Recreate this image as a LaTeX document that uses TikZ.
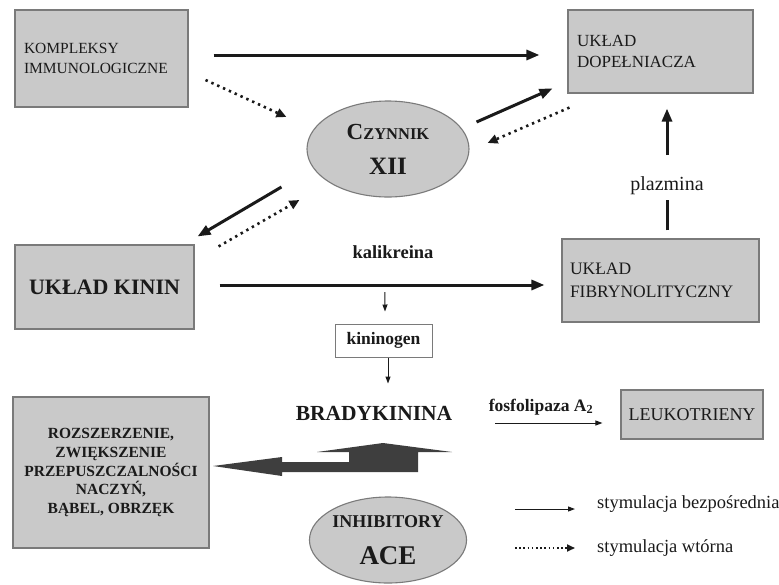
\documentclass[tikz,border=0pt]{standalone}
\usepackage{fontspec}
\setmainfont{Liberation Serif}
\usetikzlibrary{arrows.meta,shapes.geometric,calc}
\definecolor{boxfill}{HTML}{C9C9C9}
\definecolor{boxline}{HTML}{7A7A7A}
\definecolor{ink}{HTML}{1A1A1A}
\definecolor{bigarrow}{HTML}{3E3E3E}
\newcommand{\fsz}[1]{\fontsize{#1}{#1}\selectfont}
\begin{document}
\begin{tikzpicture}[x=1pt,y=-1pt,
  graybox/.style={draw=boxline, line width=1.1pt, fill=boxfill, text=ink, inner sep=0pt},
  whitebox/.style={draw=boxline, line width=1pt, fill=white, text=ink, inner sep=0pt},
  grayell/.style={ellipse, draw=boxline, line width=1.1pt, fill=boxfill, text=ink, inner sep=0pt},
  thickarr/.style={line width=3pt, draw=ink, -{Triangle[length=13pt,width=10pt]}},
  thickline/.style={line width=3pt, draw=ink},
  dotarr/.style={line width=2.6pt, draw=ink, dash pattern=on 2.4pt off 4pt, -{Triangle[length=10pt,width=9pt]}},
  thinarr/.style={line width=1pt, draw=ink, -{Triangle[length=7pt,width=5pt]}},
  thindot/.style={line width=1.8pt, draw=ink, dash pattern=on 1.6pt off 2.6pt, -{Triangle[length=8pt,width=7pt]}},
  lbl/.style={text=ink, inner sep=0pt}
]
\useasboundingbox (0,0) rectangle (779,584);

% boxes
\node[graybox, minimum width=173pt, minimum height=97pt, text width=155pt, align=left, inner xsep=9pt,
  font={\fontsize{15.5}{20}\selectfont}]
  (komp) at (101.5,58.5) {KOMPLEKSY\\IMMUNOLOGICZNE};
\node[graybox, minimum width=185pt, minimum height=83pt, text width=167pt, align=left, inner xsep=9pt,
  font={\fontsize{17}{21}\selectfont}]
  (dop) at (660.5,51.5) {UKŁAD\\DOPEŁNIACZA};
\node[graybox, minimum width=197pt, minimum height=83pt, text width=181pt, align=left, inner xsep=8pt,
  font={\fontsize{17.5}{23}\selectfont}]
  (fib) at (660.5,280.5) {UKŁAD\\FIBRYNOLITYCZNY};
\node[graybox, minimum width=179pt, minimum height=84pt, font={\bfseries\fsz{22}}]
  (kinin) at (104.5,287) {UKŁAD KININ};
\node[whitebox, minimum width=97pt, minimum height=33pt, font={\bfseries\fsz{17.5}}]
  (kng) at (383.5,340.5) {kininogen};
\node[graybox, minimum width=196pt, minimum height=151pt, align=center,
  font={\bfseries\fontsize{15.5}{18.7}\selectfont}]
  (rozsz) at (111,472.5) {ROZSZERZENIE,\\ZWIĘKSZENIE\\PRZEPUSZCZALNOŚCI\\NACZYŃ,\\BĄBEL, OBRZĘK};
\node[graybox, minimum width=142pt, minimum height=49pt, font={\fsz{18}}]
  (leuko) at (692,414.5) {LEUKOTRIENY};

% ellipses
\node[grayell, minimum width=162pt, minimum height=96pt, align=center,
  font={\bfseries\fontsize{25}{35}\selectfont}]
  (czyn) at (388,149) {{\fsz{23}C}{\fsz{16.5}ZYNNIK}\\XII};
\node[grayell, minimum width=142pt, minimum height=86pt, align=center,
  font={\bfseries\fontsize{27}{37}\selectfont}]
  (ace) at (388,540) {{\fsz{18}INHIBITORY}\\ACE};

% labels
\node[lbl, font={\bfseries\fsz{21.5}}] (brady) at (374,413) {BRADYKININA};
\node[lbl, font={\bfseries\fsz{18.5}}] (kalik) at (393,252) {kalikreina};
\node[lbl, font={\fsz{20}}] (plaz) at (667,186) {plazmina};
\node[lbl, font={\bfseries\fsz{17.5}}] (fosfo) at (541,407) {fosfolipaza A$_{\mathbf 2}$};
\node[lbl, anchor=west, font={\fsz{18.5}}] (leg1) at (597,504) {stymulacja bezpośrednia};
\node[lbl, anchor=west, font={\fsz{18.5}}] (leg2) at (597,548) {stymulacja wtórna};

% connectors
\draw[thickarr] ($(komp.east)+(25,-3.5)$) -- ($(dop.west)+(-28,3.5)$);
\draw[dotarr] ($(komp.east)+(17,21.5)$) -- ($(czyn.west)+(-20,-32)$);
\draw[thickarr] ($(czyn.east)+(7,-27)$) -- ($(dop.south west)+(-15,-5)$);
\draw[dotarr] ($(dop.south west)+(2,14)$) -- ($(czyn.east)+(18,-6)$);
\draw[thickarr] ($(czyn.west)+(-25,38)$) -- ($(kinin.north east)+(3,-8)$);
\draw[dotarr] ($(kinin.north east)+(24,2)$) -- ($(czyn.west)+(-7,51)$);
\draw[thickarr] ($(kinin.east)+(25,-2)$) -- coordinate[pos=0.509] (kmid) ($(fib.west)+(-17,4.5)$);
\draw[thickline] ($(fib.north)+(6.5,-8)$) -- ($(plaz.center)+(0,14)$);
\draw[thickarr] ($(plaz.center)+(0,-31)$) -- ($(dop.south)+(6.5,15)$);
\draw[thinarr] ($(kmid)+(0,7)$) -- ($(kng.north)+(1.5,-12)$);
\draw[thinarr] ($(kng.south)+(4.5,0)$) -- ($(kng.south)+(4.5,26)$);
\draw[thinarr] ($(leuko.west)+(-125,8.5)$) -- ($(leuko.west)+(-18,8.5)$);

% big arrow
\fill[bigarrow] (213,466) -- (282,457) -- (282,462) -- (349,462) -- (349,452) -- (317,452)
  -- (383,443) -- (452,452) -- (418,452) -- (418,472) -- (282,472) -- (282,476) -- cycle;

% legend
\draw[thinarr] ($(leg1.west)+(-82,5)$) -- ($(leg1.west)+(-22,5)$);
\draw[thindot] ($(leg2.west)+(-82,0)$) -- ($(leg2.west)+(-22,0)$);
\end{tikzpicture}
\end{document}
